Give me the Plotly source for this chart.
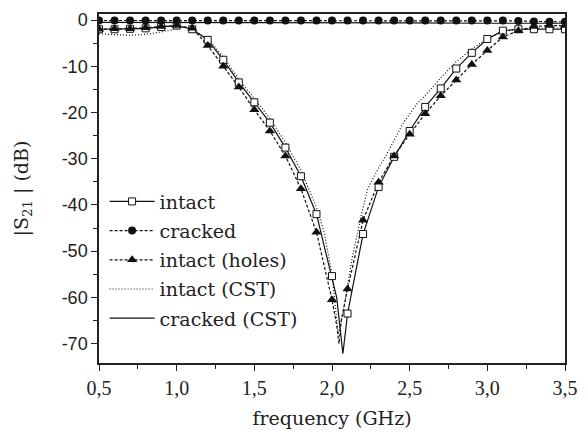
import plotly.graph_objects as go

# ---------------- data ----------------
f_mark = [0.5, 0.6, 0.7, 0.8, 0.9, 1.0, 1.1, 1.2, 1.3, 1.4, 1.5, 1.6, 1.7, 1.8, 1.9, 2.0,
          2.1, 2.2, 2.3, 2.4, 2.5, 2.6, 2.7, 2.8, 2.9, 3.0, 3.1, 3.2, 3.3, 3.4, 3.5]

intact_mark = [-2.0, -2.0, -1.9, -1.8, -1.5, -1.2, -2.0, -4.3, -8.6, -13.5, -17.8, -22.2, -27.6,
               -33.8, -42.0, -55.4, -63.5, -46.3, -36.1, -29.6, -24.0, -18.8, -14.8, -10.5, -7.1,
               -4.1, -2.3, -2.0, -2.0, -2.0, -2.0]
cracked_mark = [-0.1, -0.1, -0.1, -0.1, -0.1, -0.1, -0.1, -0.1, -0.1, -0.1, -0.1, -0.1, -0.1,
                -0.1, -0.1, -0.1, -0.1, -0.1, -0.1, -0.1, -0.1, -0.1, -0.1, -0.1, -0.1, -0.1,
                -0.1, -0.2, -0.3, -0.4, -0.4]
holes_mark = [-2.0, -1.9, -1.9, -1.7, -1.4, -1.2, -1.8, -5.5, -10.0, -14.5, -19.4, -24.0, -29.4,
              -36.5, -45.9, -60.5, -58.2, -43.3, -35.1, -29.4, -24.7, -20.3, -16.4, -13.0, -9.6,
              -6.6, -3.7, -2.3, -1.4, -1.2, -1.2]

# measured curves (line) incl. finer points around the notch
f_intact_line = [0.5, 0.6, 0.7, 0.8, 0.9, 1.0, 1.1, 1.2, 1.3, 1.4, 1.5, 1.6, 1.7, 1.8, 1.9, 2.0,
                 2.03, 2.05, 2.07, 2.09, 2.1, 2.2, 2.3, 2.4, 2.5, 2.6, 2.7, 2.8, 2.9, 3.0, 3.1,
                 3.2, 3.3, 3.4, 3.5]
s_intact_line = [-2.0, -2.0, -1.9, -1.8, -1.5, -1.2, -2.0, -4.3, -8.6, -13.5, -17.8, -22.2, -27.6,
                 -33.8, -42.0, -55.4, -60.0, -66.0, -72.2, -66.5, -63.5, -46.3, -36.1, -29.6,
                 -24.0, -18.8, -14.8, -10.5, -7.1, -4.1, -2.3, -2.0, -2.0, -2.0, -2.0]

f_holes_line = [0.5, 0.6, 0.7, 0.8, 0.9, 1.0, 1.1, 1.2, 1.3, 1.4, 1.5, 1.6, 1.7, 1.8, 1.9, 2.0,
                2.03, 2.045, 2.06, 2.1, 2.2, 2.3, 2.4, 2.5, 2.6, 2.7, 2.8, 2.9, 3.0, 3.1, 3.2,
                3.3, 3.4, 3.5]
s_holes_line = [-2.0, -1.9, -1.9, -1.7, -1.4, -1.2, -1.8, -5.5, -10.0, -14.5, -19.4, -24.0, -29.4,
                -36.5, -45.9, -60.5, -66.0, -70.0, -65.0, -58.2, -43.3, -35.1, -29.4, -24.7,
                -20.3, -16.4, -13.0, -9.6, -6.6, -3.7, -2.3, -1.4, -1.2, -1.2]

# simulations (CST)
f_cst = [0.5, 0.6, 0.7, 0.8, 0.9, 1.0, 1.05, 1.1, 1.2, 1.3, 1.4, 1.5, 1.6, 1.7, 1.8, 1.9, 1.95,
         2.0, 2.04, 2.07, 2.1, 2.13, 2.19, 2.23, 2.3, 2.35, 2.46, 2.55, 2.6, 2.7, 2.8, 2.9, 3.0,
         3.1, 3.2, 3.3, 3.4, 3.5]
intact_cst = [-3.0, -3.2, -3.3, -3.1, -2.6, -1.9, -1.5, -2.0, -4.0, -8.0, -12.8, -17.0, -21.3,
              -26.5, -32.5, -40.5, -46.0, -55.0, -68.0, -63.5, -57.0, -51.5, -42.0, -36.5, -32.0,
              -29.2, -22.2, -18.0, -16.3, -12.5, -9.0, -6.3, -4.0, -2.5, -2.0, -1.8, -1.8, -1.8]
f_cracked_cst = [0.5, 1.0, 1.5, 2.0, 2.5, 3.0, 3.5]
cracked_cst = [-0.5, -0.5, -0.6, -0.6, -0.6, -0.7, -0.7]

y_ticks = [0, -10, -20, -30, -40, -50, -60, -70]
y_labels = ["0", "-10", "-20", "-30", "-40", "-50", "-60", "-70"]
x_ticks = [0.5, 1.0, 1.5, 2.0, 2.5, 3.0, 3.5]
x_labels = ["0,5", "1,0", "1,5", "2,0", "2,5", "3,0", "3,5"]

# ---------------- figure ----------------
serif = "DejaVu Serif"
BLK = "#111111"
TXT = "#222222"
LW = 1.2
fig = go.Figure()

# lines
fig.add_trace(go.Scatter(x=f_intact_line, y=s_intact_line, mode="lines",
                         line=dict(color=BLK, width=LW), showlegend=False))
fig.add_trace(go.Scatter(x=f_mark, y=cracked_mark, mode="lines",
                         line=dict(color=BLK, width=LW, dash="3px,2px"), showlegend=False))
fig.add_trace(go.Scatter(x=f_holes_line, y=s_holes_line, mode="lines",
                         line=dict(color=BLK, width=LW, dash="3px,2px"), showlegend=False))
fig.add_trace(go.Scatter(x=f_cst, y=intact_cst, mode="lines",
                         line=dict(color=BLK, width=LW, dash="1px,2px"), showlegend=False))
fig.add_trace(go.Scatter(x=f_cracked_cst, y=cracked_cst, mode="lines",
                         line=dict(color=BLK, width=LW), showlegend=False))

# markers
fig.add_trace(go.Scatter(x=f_mark, y=intact_mark, mode="markers", showlegend=False,
                         marker=dict(symbol="square", size=7, color="white",
                                     line=dict(color=BLK, width=1))))
fig.add_trace(go.Scatter(x=f_mark, y=cracked_mark, mode="markers", showlegend=False,
                         marker=dict(symbol="circle", size=8, color=BLK, line=dict(width=0))))
fig.add_trace(go.Scatter(x=f_mark, y=holes_mark, mode="markers", showlegend=False,
                         marker=dict(symbol="triangle-up", size=9, color=BLK, line=dict(width=0))))

# legend entries
fig.add_trace(go.Scatter(x=[None], y=[None], mode="lines+markers", name="intact", legendgroup="a",
                         line=dict(color=BLK, width=LW),
                         marker=dict(symbol="square", size=7, color="white",
                                     line=dict(color=BLK, width=1))))
fig.add_trace(go.Scatter(x=[None], y=[None], mode="lines+markers", name="cracked", legendgroup="b",
                         line=dict(color=BLK, width=LW, dash="3px,2px"),
                         marker=dict(symbol="circle", size=8, color=BLK, line=dict(width=0))))
fig.add_trace(go.Scatter(x=[None], y=[None], mode="lines+markers", name="intact (holes)",
                         legendgroup="c",
                         line=dict(color=BLK, width=LW, dash="3px,2px"),
                         marker=dict(symbol="triangle-up", size=9, color=BLK, line=dict(width=0))))
fig.add_trace(go.Scatter(x=[None], y=[None], mode="lines", name="intact (CST)", legendgroup="d",
                         line=dict(color=BLK, width=LW, dash="1px,2px")))
fig.add_trace(go.Scatter(x=[None], y=[None], mode="lines", name="cracked (CST)", legendgroup="e",
                         line=dict(color=BLK, width=LW)))

axis_common = dict(showline=True, linecolor=TXT, linewidth=1.5, mirror=True,
                   showgrid=False, zeroline=False, ticks="outside", ticklen=6,
                   tickwidth=1.2, tickcolor=TXT)

fig.update_xaxes(range=[0.5, 3.5], tickvals=x_ticks, ticktext=x_labels,
                 tickfont=dict(family="Liberation Serif", size=20, color=TXT),
                 minor=dict(ticks="outside", ticklen=4, dtick=0.25, tick0=0.5,
                            tickcolor=TXT, tickwidth=1.2),
                 title=dict(text="frequency (GHz)", font=dict(family=serif, size=19, color=TXT),
                            standoff=14),
                 **axis_common)
fig.update_yaxes(range=[-74.2, 1.3], tickvals=y_ticks, ticktext=y_labels,
                 tickfont=dict(family="Liberation Sans", size=18, color=TXT),
                 minor=dict(ticks="outside", ticklen=4, dtick=5, tick0=0,
                            tickcolor=TXT, tickwidth=1.2),
                 title=dict(text="|S<sub>21</sub> | (dB)", font=dict(family=serif, size=19, color=TXT),
                            standoff=28),
                 **axis_common)

fig.update_layout(
    width=588, height=439,
    margin=dict(l=99, r=13, t=10, b=76),
    paper_bgcolor="white", plot_bgcolor="white",
    legend=dict(x=0.012, y=0.517, xanchor="left", yanchor="top",
                bgcolor="rgba(0,0,0,0)", borderwidth=0,
                font=dict(family=serif, size=19, color=TXT),
                itemwidth=45, traceorder="grouped", tracegroupgap=1.5),
)

fig.write_html("out.html")
